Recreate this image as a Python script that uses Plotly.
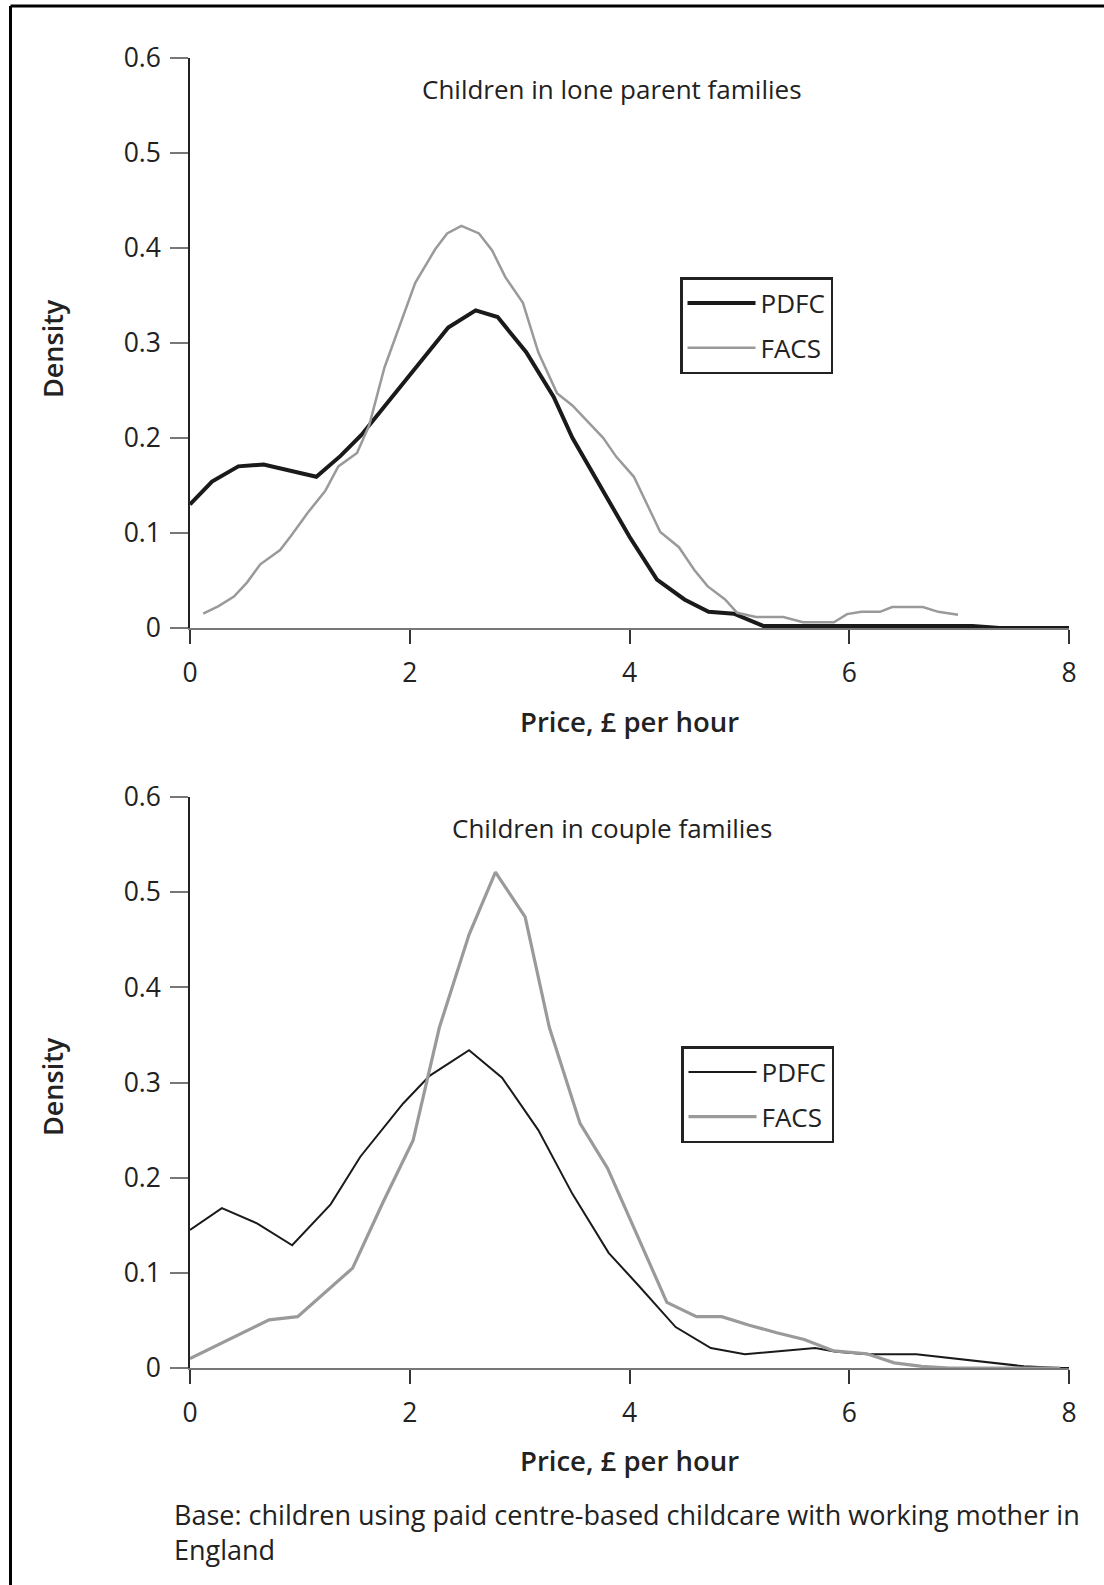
import plotly.graph_objects as go

# ---------------- data ----------------
# Top panel: children in lone parent families
lone_pdfc_x = [0.0, 0.20, 0.44, 0.67, 1.15, 1.37, 1.56, 2.35, 2.60, 2.80, 3.06, 3.31, 3.48, 3.76, 4.00, 4.25, 4.50, 4.72, 4.95, 5.22, 7.12, 7.37, 8.0]
lone_pdfc_y = [0.130, 0.154, 0.170, 0.172, 0.159, 0.181, 0.203, 0.316, 0.334, 0.327, 0.290, 0.243, 0.200, 0.145, 0.096, 0.051, 0.030, 0.017, 0.015, 0.002, 0.002, 0.0, 0.0]

lone_facs_x = [0.12, 0.26, 0.40, 0.52, 0.64, 0.82, 0.92, 1.07, 1.23, 1.35, 1.52, 1.63, 1.77, 1.92, 2.05, 2.23, 2.34, 2.47, 2.63, 2.75, 2.87, 3.03, 3.17, 3.34, 3.48, 3.76, 3.88, 4.04, 4.28, 4.45, 4.59, 4.71, 4.87, 4.98, 5.15, 5.40, 5.58, 5.86, 5.98, 6.11, 6.28, 6.39, 6.67, 6.81, 6.99]
lone_facs_y = [0.015, 0.023, 0.033, 0.048, 0.067, 0.082, 0.097, 0.121, 0.144, 0.170, 0.184, 0.213, 0.274, 0.322, 0.363, 0.398, 0.415, 0.423, 0.415, 0.397, 0.369, 0.342, 0.290, 0.247, 0.234, 0.200, 0.180, 0.159, 0.101, 0.085, 0.061, 0.044, 0.030, 0.016, 0.0115, 0.0115, 0.006, 0.006, 0.0146, 0.017, 0.017, 0.022, 0.022, 0.017, 0.014]

# Bottom panel: children in couple families
couple_pdfc_x = [0.0, 0.29, 0.61, 0.93, 1.28, 1.55, 1.94, 2.18, 2.54, 2.84, 3.17, 3.48, 3.81, 4.08, 4.42, 4.74, 5.05, 5.34, 5.69, 5.88, 6.16, 6.61, 6.97, 7.28, 7.59, 7.92, 8.0]
couple_pdfc_y = [0.145, 0.168, 0.152, 0.129, 0.172, 0.222, 0.278, 0.307, 0.334, 0.305, 0.250, 0.183, 0.121, 0.087, 0.043, 0.021, 0.0145, 0.0174, 0.021, 0.017, 0.0145, 0.0145, 0.0098, 0.0054, 0.0018, 0.0, 0.0]

couple_facs_x = [0.0, 0.24, 0.50, 0.72, 0.98, 1.23, 1.48, 1.76, 2.03, 2.27, 2.54, 2.78, 3.05, 3.27, 3.55, 3.80, 4.34, 4.61, 4.84, 5.09, 5.34, 5.59, 5.86, 6.16, 6.41, 6.66, 6.91, 7.92]
couple_facs_y = [0.010, 0.0235, 0.038, 0.0506, 0.054, 0.0795, 0.105, 0.175, 0.239, 0.358, 0.4555, 0.521, 0.474, 0.358, 0.257, 0.210, 0.069, 0.054, 0.054, 0.045, 0.037, 0.030, 0.018, 0.015, 0.0054, 0.0018, 0.0, 0.0]

x_ticks = [0, 2, 4, 6, 8]
y_ticks = [0, 0.1, 0.2, 0.3, 0.4, 0.5, 0.6]
y_tick_text = ["0", "0.1", "0.2", "0.3", "0.4", "0.5", "0.6"]

panel_titles = ["Children in lone parent families", "Children in couple families"]
x_title = "Price, £ per hour"
y_title = "Density"
footnote = "Base: children using paid centre-based childcare with working mother in<br>England"

# ---------------- layout helpers ----------------
W, H = 1104, 1585
FONT = "Open Sans"
DARK = "#1a1a1a"
GREY = "#9a9a9a"


def px_x(p):
    return p / W


def px_y(p):
    return 1 - p / H


fig = go.Figure()

fig.add_trace(go.Scatter(x=lone_pdfc_x, y=lone_pdfc_y, mode="lines", name="PDFC", legendgroup="a",
                         line=dict(color=DARK, width=4), xaxis="x", yaxis="y", legend="legend"))
fig.add_trace(go.Scatter(x=lone_facs_x, y=lone_facs_y, mode="lines", name="FACS", legendgroup="b",
                         line=dict(color=GREY, width=2.5), xaxis="x", yaxis="y", legend="legend"))
fig.add_trace(go.Scatter(x=couple_pdfc_x, y=couple_pdfc_y, mode="lines", name="PDFC", legendgroup="c",
                         line=dict(color=DARK, width=2), xaxis="x2", yaxis="y2", legend="legend2"))
fig.add_trace(go.Scatter(x=couple_facs_x, y=couple_facs_y, mode="lines", name="FACS", legendgroup="d",
                         line=dict(color=GREY, width=3.2), xaxis="x2", yaxis="y2", legend="legend2"))

xdom = [px_x(190), px_x(1069)]
top_ydom = [px_y(628), px_y(57.5)]
bot_ydom = [px_y(1368), px_y(797)]

tickfont = dict(family=FONT, size=26.5, color="#222")

xaxis_common = dict(range=[0, 8], tickvals=x_ticks, ticktext=[str(t) for t in x_ticks],
                    showgrid=False, zeroline=False, showline=True, linecolor="#777", linewidth=1.5,
                    ticks="outside", ticklen=14, tickwidth=1.5, tickcolor="#333",
                    tickfont=tickfont, ticklabelstandoff=6, fixedrange=True, automargin=False)
yaxis_common = dict(range=[0, 0.6], tickvals=y_ticks, ticktext=y_tick_text,
                    showgrid=False, zeroline=False, showline=True, linecolor="#222", linewidth=1.5,
                    ticks="outside", ticklen=18, tickwidth=1.5, tickcolor="#777",
                    tickfont=tickfont, ticklabelstandoff=4, fixedrange=True, automargin=False)

legend_common = dict(bgcolor="white", bordercolor="#222", borderwidth=2.5,
                     font=dict(family=FONT, size=26, color="#222"),
                     xanchor="left", yanchor="top", itemwidth=68, tracegroupgap=8,
                     itemclick=False, itemdoubleclick=False)

fig.update_layout(
    width=W, height=H,
    autosize=False,
    margin=dict(l=0, r=0, t=0, b=0, pad=0, autoexpand=False),
    paper_bgcolor="white", plot_bgcolor="white",
    xaxis=dict(domain=xdom, anchor="y", **xaxis_common),
    yaxis=dict(domain=top_ydom, anchor="x", **yaxis_common),
    xaxis2=dict(domain=xdom, anchor="y2", **xaxis_common),
    yaxis2=dict(domain=bot_ydom, anchor="x2", **yaxis_common),
    legend=dict(x=px_x(680), y=px_y(277), **legend_common),
    legend2=dict(x=px_x(681), y=px_y(1046), **legend_common),
    showlegend=True,
)

annotations = []
# panel titles
for title, ypx in zip(panel_titles, [89, 828]):
    annotations.append(dict(text=title, x=px_x(612), y=px_y(ypx), xref="paper", yref="paper",
                            xanchor="center", yanchor="middle", showarrow=False,
                            font=dict(family=FONT, size=26, color="#222")))
# axis titles
for ypx in [721, 1460]:
    annotations.append(dict(text=x_title, x=px_x(629), y=px_y(ypx), xref="paper", yref="paper",
                            xanchor="center", yanchor="middle", showarrow=False,
                            font=dict(family=FONT, size=27.5, color="#222", weight=600)))
for ypx in [349, 1087]:
    annotations.append(dict(text=y_title, x=px_x(52), y=px_y(ypx), xref="paper", yref="paper",
                            xanchor="center", yanchor="middle", showarrow=False, textangle=-90,
                            font=dict(family=FONT, size=27, color="#222", weight=600)))
# footnote
annotations.append(dict(text=footnote, x=px_x(172), y=px_y(1494), xref="paper", yref="paper",
                        xanchor="left", yanchor="top", align="left", showarrow=False,
                        font=dict(family=FONT, size=27, color="#222")))
fig.update_layout(annotations=annotations)

# outer frame (top and left edges visible)
fig.add_shape(type="line", xref="paper", yref="paper", x0=px_x(10.5), x1=1.0, y0=px_y(6), y1=px_y(6),
              line=dict(color="black", width=3))
fig.add_shape(type="line", xref="paper", yref="paper", x0=px_x(10.5), x1=px_x(10.5), y0=px_y(6), y1=0.0,
              line=dict(color="black", width=3))

fig.write_html("out.html", config={"responsive": False, "displayModeBar": False},
               post_script="document.body.style.margin='0px';document.body.style.padding='0px';")
